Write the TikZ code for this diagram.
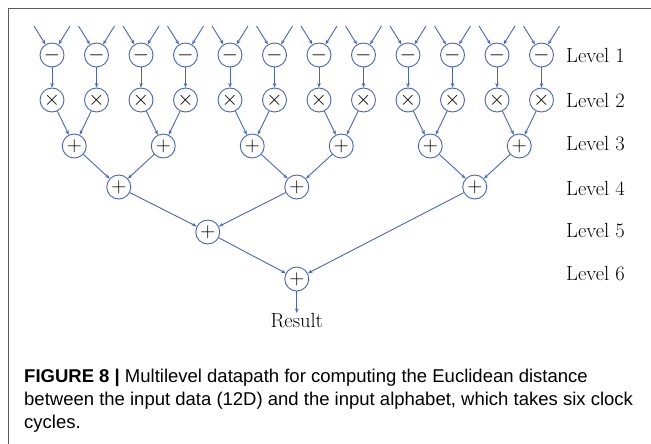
\documentclass[tikz,border=0pt]{standalone}
\usepackage{fontspec}
\newfontfamily\capfont{Liberation Sans}
\usetikzlibrary{arrows.meta}
\definecolor{wire}{RGB}{72,102,192}
\definecolor{frame}{RGB}{90,90,90}
\begin{document}
\begin{tikzpicture}[x=1pt,y=-1pt,
  op/.style={circle,draw=wire,line width=0.9pt,minimum size=24pt,inner sep=0pt,font=\fontsize{20}{24}\selectfont},
  wirearrow/.style={draw=wire,line width=0.9pt,-{Stealth[length=4.5pt,width=3.5pt]}},
  lvl/.style={anchor=west,inner sep=0pt,font=\fontsize{20.5}{24}\selectfont},
  captext/.style={anchor=base west,inner sep=0pt,align=left,font=\capfont\fontsize{18.5}{23}\selectfont}]
\useasboundingbox (0,0) rectangle (651,444);
\draw[frame,line width=1pt] (8,444) -- (8,9) -- (651,9);
% level 1 and 2
\foreach \i in {0,...,11}{
  \pgfmathsetmacro{\xx}{52+44.5*\i}
  \node[op] (a\i) at (\xx,55) {$-$};
  \node[op] (m\i) at (\xx,100) {$\times$};
  \coordinate (inl\i) at (\xx-18,26);
  \coordinate (inr\i) at (\xx+18,26);
  \draw[wirearrow] (inl\i) -- (a\i);
  \draw[wirearrow] (inr\i) -- (a\i);
  \draw[wirearrow] (a\i) -- (m\i);
}
% level 3
\foreach \j in {0,...,5}{
  \pgfmathsetmacro{\xx}{74.25+89*\j}
  \pgfmathtruncatemacro{\p}{2*\j}
  \pgfmathtruncatemacro{\q}{2*\j+1}
  \node[op] (s\j) at (\xx,146) {$+$};
  \draw[wirearrow] (m\p) -- (s\j);
  \draw[wirearrow] (m\q) -- (s\j);
}
% level 4
\foreach \k in {0,1,2}{
  \pgfmathsetmacro{\xx}{118.75+178*\k}
  \pgfmathtruncatemacro{\p}{2*\k}
  \pgfmathtruncatemacro{\q}{2*\k+1}
  \node[op] (t\k) at (\xx,187) {$+$};
  \draw[wirearrow] (s\p) -- (t\k);
  \draw[wirearrow] (s\q) -- (t\k);
}
% level 5
\node[op] (u0) at (207.75,232) {$+$};
\draw[wirearrow] (t0) -- (u0);
\draw[wirearrow] (t1) -- (u0);
% level 6
\node[op] (v0) at (296.75,279) {$+$};
\draw[wirearrow] (u0) -- (v0);
\draw[wirearrow] (t2) -- (v0);
% result
\node[inner sep=0pt,font=\fontsize{20.5}{24}\selectfont,anchor=north] (res) at (296.75,313) {Result};
\draw[wirearrow] (v0) -- (res);
% level labels
\node[lvl] (l1) at (566,55) {Level 1};
\node[lvl] (l2) at (566,100) {Level 2};
\node[lvl] (l3) at (566,144) {Level 3};
\node[lvl] (l4) at (566,188) {Level 4};
\node[lvl] (l5) at (566,231) {Level 5};
\node[lvl] (l6) at (566,274) {Level 6};
% caption (anchor = baseline of the last line)
\node[captext] (cap) at (24,428) {\textbf{FIGURE 8 |} Multilevel datapath for computing the Euclidean distance\\between the input data (12D) and the input alphabet, which takes six clock\\cycles.};
\end{tikzpicture}
\end{document}
